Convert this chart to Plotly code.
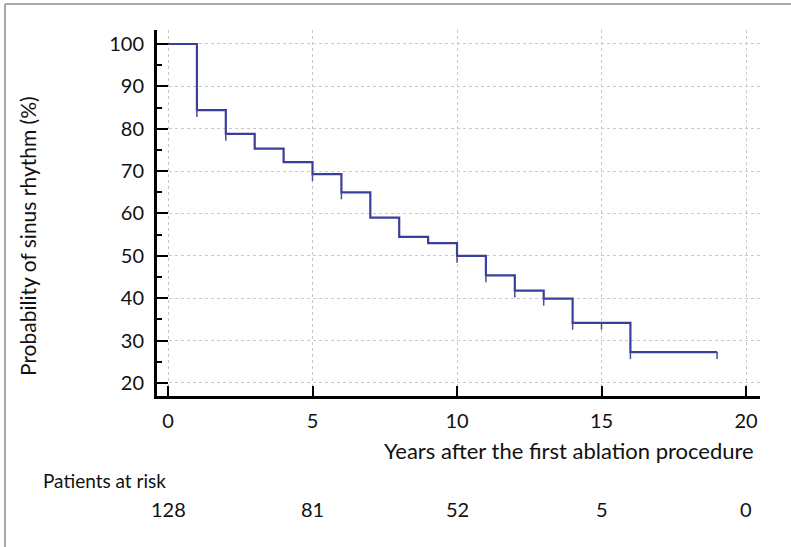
import plotly.graph_objects as go

# Kaplan-Meier step data (years, % in sinus rhythm)
step_times = [0, 1, 2, 3, 4, 5, 6, 7, 8, 9, 10, 11, 12, 13, 14, 16, 19]
step_surv = [100, 84.4, 78.8, 75.3, 72.1, 69.3, 65.0, 59.0, 54.5, 53.0, 50.0, 45.4, 41.8, 39.9, 34.2, 27.3, 27.3]

# censored observation times
censor_times = [1, 2, 5, 6, 10, 11, 12, 13, 14, 15, 16, 19]

# numbers at risk
risk_times = [0, 5, 10, 15, 20]
risk_counts = [128, 81, 52, 5, 0]

x_ticks = [0, 5, 10, 15, 20]
y_ticks = [20, 30, 40, 50, 60, 70, 80, 90, 100]

LINE = "#3b3f9c"
FONT = "Lato"
TICK_SIZE = 20


def surv_at(t):
    v = step_surv[0]
    for tt, s in zip(step_times, step_surv):
        if tt <= t:
            v = s
    return v


mark_len = 1.65
cx, cy = [], []
for t in censor_times:
    s = surv_at(t)
    cx += [t, t, None]
    cy += [s, s - mark_len, None]

fig = go.Figure()
fig.add_trace(go.Scatter(x=step_times, y=step_surv, mode="lines",
                         line=dict(color=LINE, width=2.2, shape="hv"),
                         hoverinfo="skip", showlegend=False))
fig.add_trace(go.Scatter(x=cx, y=cy, mode="lines",
                         line=dict(color="#4a4e96", width=1.5),
                         hoverinfo="skip", showlegend=False))

W, H = 791, 547
ml, mr, mt, mb = 157, 31, 30, 151
pw, ph = W - ml - mr, H - mt - mb


def px_x(p):
    return (p - ml) / pw


def px_y(p):
    return (H - mb - p) / ph


fig.update_layout(
    width=W, height=H,
    margin=dict(l=ml, r=mr, t=mt, b=mb),
    paper_bgcolor="white", plot_bgcolor="white",
    font=dict(family=FONT, size=20, color="#111"),
    showlegend=False,
    xaxis=dict(range=[-0.381, 20.484], tickvals=x_ticks, ticks="inside",
               ticklen=10, tickwidth=2, tickcolor="black",
               showline=True, linecolor="black", linewidth=3,
               showgrid=True, gridcolor="#c8c8c8", griddash="dot", gridwidth=1,
               zeroline=False, tickfont=dict(size=TICK_SIZE), ticklabelstandoff=5),
    yaxis=dict(range=[16.93, 103.3], tickvals=y_ticks, ticks="inside",
               ticklen=11, tickwidth=2, tickcolor="black",
               showline=True, linecolor="black", linewidth=3,
               showgrid=True, gridcolor="#c8c8c8", griddash="dot", gridwidth=1,
               zeroline=False, tickfont=dict(size=TICK_SIZE), ticklabelstandoff=6,
               minor=dict(tickvals=[25, 35, 45, 55, 65, 75, 85, 95], ticks="inside",
                          ticklen=5, tickwidth=2, tickcolor="black", showgrid=False)),
)

ann = []
ann.append(dict(text="Years after the first ablation procedure", xref="paper", yref="paper",
                x=px_x(756), y=px_y(450), xanchor="right", yanchor="middle",
                showarrow=False, font=dict(size=22)))
ann.append(dict(text="Probability of sinus rhythm (%)", xref="paper", yref="paper",
                x=px_x(28), y=px_y(236), xanchor="center", yanchor="middle",
                textangle=-90, showarrow=False, font=dict(size=21)))
ann.append(dict(text="Patients at risk", xref="paper", yref="paper",
                x=px_x(41), y=px_y(480), xanchor="left", yanchor="middle",
                showarrow=False, font=dict(size=19)))
for t, n in zip(risk_times, risk_counts):
    ann.append(dict(text=str(n), xref="x", yref="paper", x=t, y=px_y(509),
                    xanchor="center", yanchor="middle", showarrow=False,
                    font=dict(size=20)))
fig.update_layout(annotations=ann)

# figure frame (top and left edges)
fig.add_shape(type="line", xref="paper", yref="paper", x0=px_x(5), x1=px_x(791),
              y0=px_y(4), y1=px_y(4), line=dict(color="#a8a8a8", width=2))
fig.add_shape(type="line", xref="paper", yref="paper", x0=px_x(5), x1=px_x(5),
              y0=px_y(4), y1=px_y(547), line=dict(color="#a8a8a8", width=2))

fig.write_html("out.html", config={"displayModeBar": False},
               post_script="document.body.style.margin='0';")
